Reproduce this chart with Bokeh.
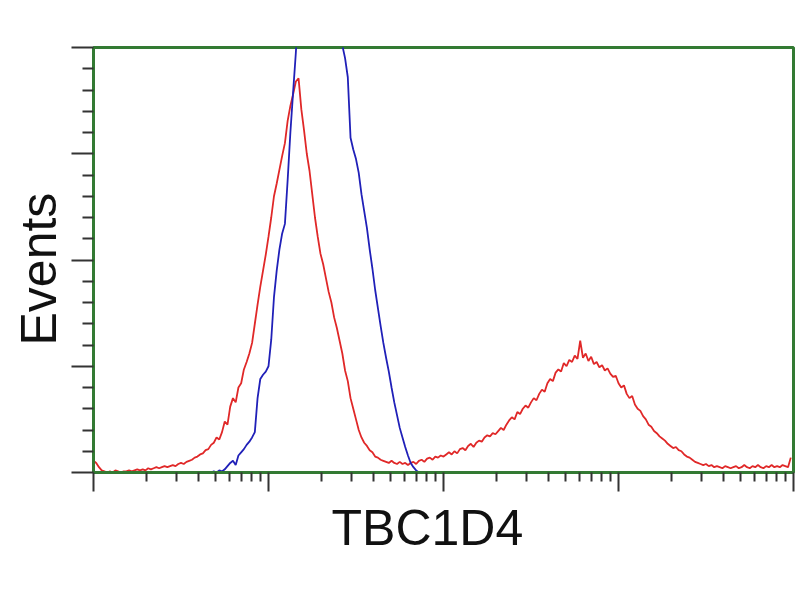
from bokeh.plotting import figure
from bokeh.models import FixedTicker, Title
from bokeh.embed import file_html
from bokeh.resources import INLINE

# 256-channel log histogram (64 channels per decade, 4 decades)
channels = list(range(256))

red_counts = [
    11, 9, 5, 2, 1, 0, 1, 0, 2, 1, 0, 1, 1, 2, 1, 2,
    3, 2, 3, 2, 4, 3, 4, 5, 4, 5, 6, 5, 6, 7, 6, 8,
    9, 8, 10, 11, 12, 14, 15, 17, 18, 21, 22, 26, 28, 33, 31, 38,
    48, 45, 62, 70, 66, 80, 84, 97, 104, 112, 122, 140, 158, 175, 190, 205,
    222, 240, 260, 272, 285, 298, 310, 331, 345, 356, 368, 371, 342, 322, 300, 284,
    262, 240, 222, 206, 196, 183, 170, 160, 146, 136, 124, 112, 96, 86, 70, 60,
    50, 40, 33, 28, 25, 21, 19, 15, 14, 12, 11, 10, 9, 11, 9, 8,
    10, 8, 9, 7, 9, 10, 8, 11, 12, 10, 13, 14, 12, 15, 14, 16,
    15, 17, 19, 17, 20, 18, 22, 23, 21, 25, 27, 24, 28, 30, 29, 33,
    35, 34, 37, 36, 39, 42, 40, 45, 49, 52, 50, 57, 55, 60, 63, 61,
    66, 70, 68, 74, 78, 76, 84, 88, 86, 94, 97, 95, 103, 100, 106, 104,
    110, 107, 124, 108, 112, 105, 109, 102, 104, 99, 101, 96, 98, 93, 90, 91,
    84, 80, 82, 74, 70, 72, 64, 60, 58, 53, 50, 45, 43, 39, 37, 34,
    32, 30, 27, 25, 23, 24, 21, 20, 17, 15, 14, 12, 10, 9, 8, 7,
    8, 6, 7, 5, 6, 5, 4, 6, 5, 4, 5, 6, 4, 5, 7, 5,
    4, 6, 5, 7, 5, 4, 6, 5, 7, 5, 6, 5, 7, 6, 5, 14,
]

blue_counts = (
    [0] * 43
    + [0, 1, 0, 2, 1, 3, 6, 9, 11, 7, 16, 19, 22, 26, 29, 33,
       38, 70, 88, 92, 95, 100, 125, 165, 190, 210, 225, 234, 275, 320, 358, 395,
       440, 480, 510, 540, 560, 580, 590, 600, 595, 585, 570, 550, 520, 490, 460, 430,
       402, 390, 372, 315, 304, 295, 282, 262, 246, 230, 210, 192, 172, 155, 138, 122,
       108, 95, 80, 66, 54, 42, 33, 24, 16, 9, 5, 2, 0]
)
blue_counts = blue_counts + [0] * (256 - len(blue_counts))

x_label = "TBC1D4"
y_label = "Events"

x_major = [1, 10, 100, 1000, 10000]
x_minor = [d * k for d in [1, 10, 100, 1000] for k in range(2, 10)]
y_major = [0, 100, 200, 300, 400]
y_minor = [v for v in range(0, 401, 20) if v % 100 != 0]

intensity = [10 ** (c / 64) for c in channels]

GREEN = "#337a33"

p = figure(
    width=800, height=600,
    x_axis_type="log",
    x_range=(1, 10000), y_range=(0, 400),
    output_backend="svg", toolbar_location=None,
    min_border_left=93, min_border_right=7, min_border_top=47, min_border_bottom=128,
)
p.background_fill_color = "white"
p.border_fill_color = "white"
p.outline_line_color = GREEN
p.outline_line_width = 3
p.grid.visible = False

p.line(intensity, red_counts, line_color="#e02828", line_width=1.8)
p.line(intensity, blue_counts, line_color="#2020b8", line_width=1.8)

for ax, major, minor in ((p.xaxis[0], x_major, x_minor), (p.yaxis[0], y_major, y_minor)):
    ax.ticker = FixedTicker(ticks=major, minor_ticks=minor)
    ax.axis_line_color = GREEN
    ax.axis_line_width = 3
    ax.major_tick_line_color = "#333333"
    ax.minor_tick_line_color = "#333333"
    ax.major_tick_line_width = 2
    ax.minor_tick_line_width = 2
    ax.major_tick_in = 0
    ax.minor_tick_in = 0
    ax.major_label_text_font_size = "0px"
    ax.major_label_text_color = None

p.xaxis.major_tick_out = 19
p.xaxis.minor_tick_out = 9
p.yaxis.major_tick_out = 22
p.yaxis.minor_tick_out = 11

title_style = dict(
    text_font="Liberation Sans", text_font_size="50px", text_font_style="normal",
    text_color="#111111", align="left",
)
p.add_layout(Title(text=x_label, offset=238, standoff=12, **title_style), "below")
p.add_layout(Title(text=y_label, offset=127, standoff=6, vertical_align="top", **title_style), "left")

open("out.html", "w").write(file_html(p, INLINE))
